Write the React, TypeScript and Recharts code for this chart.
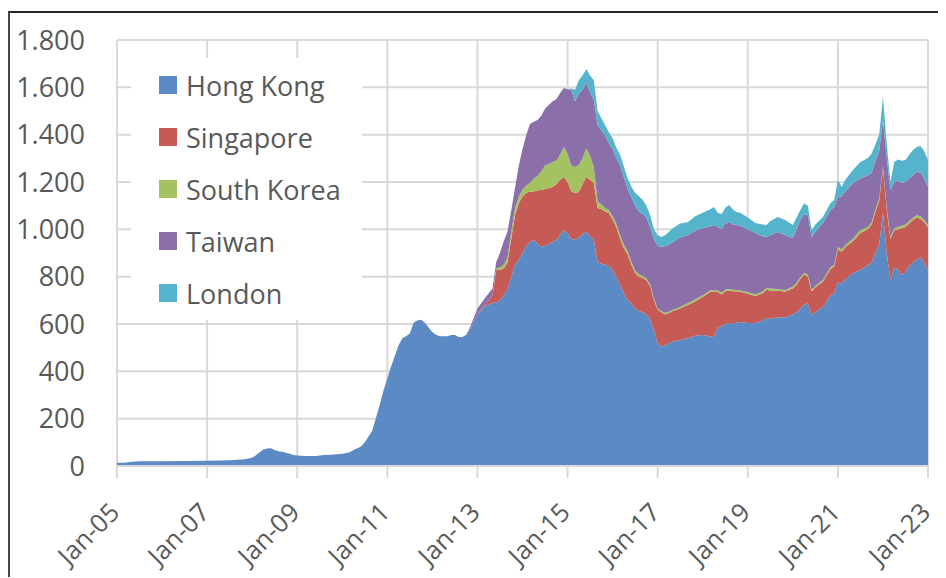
import React from "react";
import { AreaChart, Area, CartesianGrid, XAxis, YAxis } from "recharts";

// month index, 0 = Jan-05
const months = [
  0, 2, 4, 6, 12, 18, 24, 30, 34, 36,
  37, 38, 39, 40, 41, 42, 43, 44, 45, 46,
  47, 48, 50, 53, 55, 57, 60, 62, 63, 64,
  65, 66, 67, 68, 69, 70, 71, 72, 73, 74,
  75, 76, 77, 78, 79, 80, 81, 82, 83, 84,
  85, 86, 88, 89, 90, 91, 92, 93,
  94, 96, 98, 100, 101, 102, 103, 104, 105, 106,
  107, 108, 109, 110, 111, 112, 113, 114, 115, 116,
  117, 118, 119, 120, 121, 122, 123, 124, 125, 126,
  127, 128, 129, 130, 131, 132, 133, 134, 135, 136,
  137, 138, 139, 140, 141, 142, 143, 144, 145, 146,
  147, 148, 150, 152, 154, 156, 158, 159, 160, 161,
  162, 163, 164, 165, 166, 168, 170, 172, 173, 174,
  176, 178, 180, 181, 182, 183, 184, 185, 186, 188,
  190, 191, 192, 193, 194, 196, 198, 200, 201, 202,
  203, 204, 205, 206, 207, 208, 209, 210, 211, 212,
  213, 214, 215, 216,
];

const hongKong = [
  14, 14, 18, 20, 20, 21, 22, 24, 28, 35,
  45, 58, 70, 74, 75, 68, 62, 60, 56, 52,
  47, 44, 42, 42, 46, 48, 52, 58, 68, 75,
  82, 100, 125, 150, 205, 260, 320, 370, 420, 465,
  510, 540, 548, 560, 605, 615, 618, 605, 585, 565,
  555, 548, 548, 553, 553, 545, 545, 555,
  575, 640, 675, 690, 690, 700, 720, 745, 800, 850,
  870, 900, 930, 945, 955, 940, 925, 930, 938, 945,
  955, 975, 997, 985, 960, 955, 965, 980, 989, 970,
  955, 862, 855, 850, 845, 828, 800, 765, 730, 700,
  688, 665, 655, 650, 640, 620, 575, 520, 505, 510,
  520, 525, 532, 540, 550, 553, 548, 545, 585, 590,
  600, 604, 600, 606, 608, 604, 604, 615, 625, 622,
  628, 629, 640, 650, 665, 680, 688, 638, 650, 672,
  720, 731, 777, 770, 790, 815, 828, 849, 860, 900,
  935, 1069, 900, 786, 841, 830, 807, 820, 845, 860,
  870, 883, 860, 828,
];

const singapore = [
  0, 0, 0, 0, 0, 0, 0, 0, 0, 0,
  0, 0, 0, 0, 0, 0, 0, 0, 0, 0,
  0, 0, 0, 0, 0, 0, 0, 0, 0, 0,
  0, 0, 0, 0, 0, 0, 0, 0, 0, 0,
  0, 0, 0, 0, 0, 0, 0, 0, 0, 0,
  0, 0, 0, 0, 0, 0, 0, 0,
  0, 2, 5, 30, 138, 128, 115, 115, 160, 210,
  240, 240, 223, 215, 205, 225, 241, 240, 237, 234,
  235, 235, 224, 215, 200, 198, 193, 210, 232, 240,
  241, 228, 230, 225, 224, 212, 210, 195, 190, 195,
  162, 150, 145, 145, 145, 140, 125, 140, 145, 130,
  125, 130, 133, 140, 145, 162, 187, 193, 150, 135,
  138, 138, 138, 132, 128, 124, 114, 115, 120, 120,
  112, 108, 110, 115, 125, 128, 112, 99, 105, 106,
  112, 111, 138, 135, 135, 135, 157, 151, 160, 175,
  185, 189, 185, 174, 154, 170, 198, 190, 180, 180,
  180, 162, 170, 180,
];

const southKorea = [
  0, 0, 0, 0, 0, 0, 0, 0, 0, 0,
  0, 0, 0, 0, 0, 0, 0, 0, 0, 0,
  0, 0, 0, 0, 0, 0, 0, 0, 0, 0,
  0, 0, 0, 0, 0, 0, 0, 0, 0, 0,
  0, 0, 0, 0, 0, 0, 0, 0, 0, 0,
  0, 0, 0, 0, 0, 0, 0, 0,
  0, 0, 0, 2, 7, 12, 15, 20, 30, 30,
  28, 28, 32, 36, 55, 60, 79, 100, 100, 105,
  100, 105, 127, 120, 110, 110, 114, 110, 122, 100,
  67, 30, 20, 15, 13, 15, 15, 15, 15, 13,
  12, 10, 10, 8, 8, 8, 8, 5, 5, 8,
  7, 5, 7, 8, 10, 7, 7, 6, 7, 8,
  7, 6, 7, 6, 6, 7, 7, 8, 7, 8,
  8, 7, 8, 8, 8, 7, 8, 7, 7, 8,
  8, 7, 10, 10, 10, 10, 12, 10, 10, 10,
  10, 5, 9, 8, 10, 10, 10, 10, 10, 10,
  10, 10, 10, 10,
];

const taiwan = [
  0, 0, 0, 0, 0, 0, 0, 0, 0, 0,
  0, 0, 0, 0, 0, 0, 0, 0, 0, 0,
  0, 0, 0, 0, 0, 0, 0, 0, 0, 0,
  0, 0, 0, 0, 0, 0, 0, 0, 0, 0,
  0, 0, 0, 0, 0, 0, 0, 0, 0, 0,
  0, 0, 0, 0, 0, 0, 0, 0,
  10, 23, 30, 28, 27, 60, 100, 110, 90, 85,
  130, 170, 215, 249, 240, 237, 235, 240, 250, 256,
  260, 260, 249, 272, 320, 277, 303, 290, 275, 270,
  283, 320, 315, 305, 283, 285, 275, 295, 285, 262,
  274, 275, 265, 262, 257, 242, 252, 265, 270, 282,
  283, 285, 293, 287, 290, 283, 270, 274, 268, 267,
  280, 283, 277, 274, 273, 265, 259, 232, 216, 225,
  241, 231, 205, 227, 242, 250, 252, 224, 228, 241,
  240, 245, 211, 225, 225, 236, 218, 219, 210, 205,
  200, 199, 211, 198, 195, 195, 181, 180, 180, 180,
  182, 185, 175, 161,
];

const london = [
  0, 0, 0, 0, 0, 0, 0, 0, 0, 0,
  0, 0, 0, 0, 0, 0, 0, 0, 0, 0,
  0, 0, 0, 0, 0, 0, 0, 0, 0, 0,
  0, 0, 0, 0, 0, 0, 0, 0, 0, 0,
  0, 0, 0, 0, 0, 0, 0, 0, 0, 0,
  0, 0, 0, 0, 0, 0, 0, 0,
  0, 0, 0, 0, 0, 0, 0, 0, 0, 0,
  0, 0, 0, 0, 0, 0, 0, 0, 0, 0,
  0, 0, 0, 0, 5, 50, 55, 60, 59, 70,
  84, 60, 50, 45, 45, 45, 45, 45, 45, 45,
  44, 55, 65, 60, 50, 50, 40, 45, 43, 45,
  55, 60, 60, 55, 60, 65, 73, 76, 60, 65,
  65, 72, 63, 55, 55, 50, 43, 50, 50, 60,
  63, 64, 55, 50, 42, 45, 40, 29, 30, 25,
  30, 30, 72, 39, 50, 55, 70, 72, 80, 70,
  70, 97, 60, 34, 84, 90, 94, 93, 100, 105,
  106, 112, 115, 114,
];

const tickMonths = [0, 24, 48, 72, 96, 120, 144, 168, 192, 216];
const tickLabels = ["Jan-05", "Jan-07", "Jan-09", "Jan-11", "Jan-13", "Jan-15", "Jan-17", "Jan-19", "Jan-21", "Jan-23"];
const yTicks = [0, 200, 400, 600, 800, 1000, 1200, 1400, 1600, 1800];

const series = [
  { key: "hongKong", name: "Hong Kong", color: "#5B8AC4" },
  { key: "singapore", name: "Singapore", color: "#C65B55" },
  { key: "southKorea", name: "South Korea", color: "#A5C263" },
  { key: "taiwan", name: "Taiwan", color: "#8A6FA9" },
  { key: "london", name: "London", color: "#55B4CC" },
];

const data = months.map((m, i) => ({
  m,
  hongKong: hongKong[i],
  singapore: singapore[i],
  southKorea: southKorea[i],
  taiwan: taiwan[i],
  london: london[i],
}));

const FONT = "'Open Sans', sans-serif";
const TEXT = "#595959";
const GRID = "#d9d9d9";

const fmt = (v: number) =>
  v >= 1000 ? `${Math.floor(v / 1000)}.${String(v % 1000).padStart(3, "0")}` : String(v);

const XTick = ({ x, y, payload }: any) => {
  const label = tickLabels[tickMonths.indexOf(payload.value)];
  return (
    <g transform={`translate(${x + 4},${y + 36})`}>
      <text textAnchor="end" transform="rotate(-45)" fill={TEXT} fontSize={25.5} fontFamily={FONT}>
        {label}
      </text>
    </g>
  );
};

const LegendBox = () => (
  <div
    style={{
      position: "absolute",
      left: 121,
      top: 45,
      width: 231,
      height: 262,
      background: "#fff",
      fontFamily: FONT,
      fontSize: 27,
      color: TEXT,
    }}
  >
    {series.map((s, i) => (
      <div
        key={s.key}
        style={{ position: "absolute", left: 28, top: 1 + i * 52, height: 52, display: "flex", alignItems: "center" }}
      >
        <span style={{ width: 18, height: 18, background: s.color, display: "inline-block", marginRight: 9 }} />
        <span style={{ whiteSpace: "nowrap" }}>{s.name}</span>
      </div>
    ))}
  </div>
);

export default function App() {
  return (
    <div
      style={{
        position: "relative",
        top: 3,
        width: 938,
        height: 567,
        borderTop: "2px solid #262626",
        borderLeft: "2px solid #444",
      }}
    >
      <AreaChart
        width={936}
        height={565}
        data={data}
        margin={{ top: 27, right: 18, left: 0, bottom: 12 }}
      >
        <CartesianGrid stroke={GRID} strokeWidth={2} />
        <XAxis
          dataKey="m"
          type="number"
          domain={[0, 216]}
          ticks={tickMonths}
          interval={0}
          height={100}
          tickSize={12}
          tickMargin={0}
          axisLine={{ stroke: GRID, strokeWidth: 2 }}
          tickLine={{ stroke: GRID, strokeWidth: 2 }}
          tick={<XTick />}
        />
        <YAxis
          domain={[0, 1800]}
          ticks={yTicks}
          interval={0}
          width={107}
          axisLine={false}
          tickLine={false}
          tickMargin={26}
          tickFormatter={fmt}
          tick={{ fill: TEXT, fontSize: 27, fontFamily: FONT }}
        />
        {series.map((s) => (
          <Area
            key={s.key}
            type="linear"
            dataKey={s.key}
            name={s.name}
            stackId="a"
            stroke="none"
            fill={s.color}
            fillOpacity={1}
            isAnimationActive={false}
            dot={false}
            activeDot={false}
          />
        ))}
      </AreaChart>
      <LegendBox />
    </div>
  );
}
